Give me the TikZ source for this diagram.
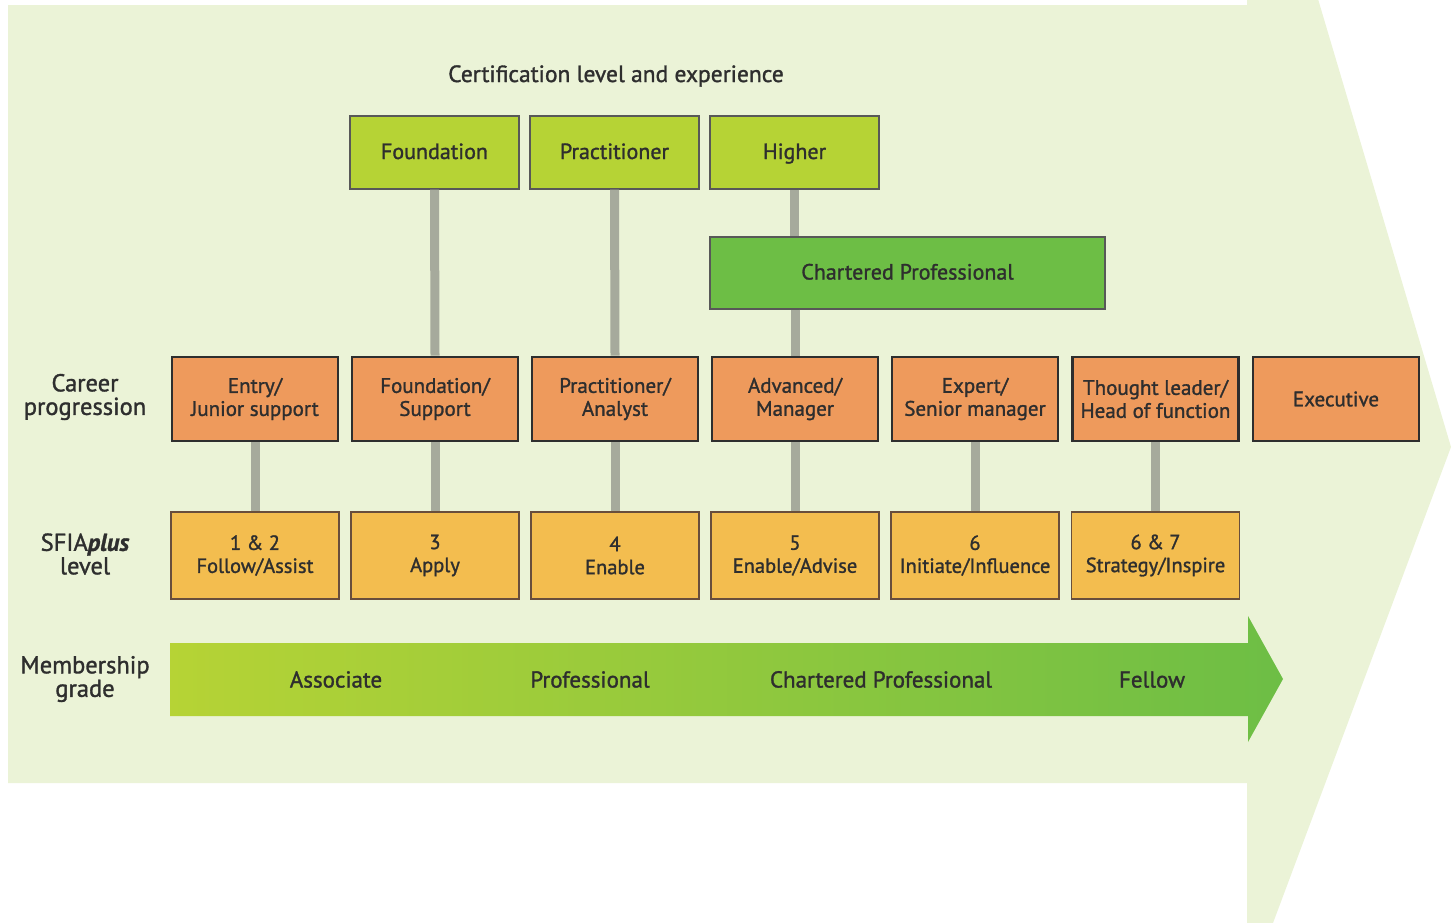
\documentclass[tikz,border=0pt]{standalone}
\usepackage{fontspec}
\setmainfont{PT Sans}[FakeBold=1.3]
\begin{document}
\definecolor{bgpale}{HTML}{EBF3D7}
\definecolor{limegr}{HTML}{B6D335}
\definecolor{midgr}{HTML}{6DBE45}
\definecolor{orangebox}{HTML}{EE9A5C}
\definecolor{yellowbox}{HTML}{F3BD4F}
\definecolor{linkgrey}{HTML}{A6AA9C}
\definecolor{ink}{HTML}{2E2E2E}
\tikzset{
  cert/.style={draw=ink!80, line width=1.2pt, fill=limegr, minimum width=169pt,
    minimum height=73pt, inner sep=0pt, text height=18pt, text depth=5pt,
    font=\fontsize{22}{24}\selectfont, text=ink},
  career/.style={draw=ink, line width=2.8pt, fill=orangebox, minimum width=166pt,
    minimum height=84pt, inner sep=0pt, align=center,
    font=\fontsize{21}{23}\selectfont, text=ink},
  sfia/.style={draw=ink!70!orangebox, line width=1.2pt, fill=yellowbox, minimum width=168pt,
    minimum height=87pt, inner sep=0pt, align=center,
    font=\fontsize{20.5}{23}\selectfont, text=ink},
  rowlabel/.style={align=center, font=\fontsize{24.5}{23.5}\selectfont, text=ink},
  grade/.style={font=\fontsize{23}{24}\selectfont, text=ink, text height=18pt, text depth=5pt},
  link/.style={draw=linkgrey, line width=9pt}
}
\begin{tikzpicture}[x=1pt,y=-1pt]
\useasboundingbox (0,0) rectangle (1456,922);
% pale background arrow
\fill[bgpale] (8,5) -- (1247,5) -- (1247,-1) -- (1318,-1) -- (1451,447)
  -- (1273,923) -- (1247,923) -- (1247,783) -- (8,783) -- cycle;

% title
\node[font=\fontsize{23.5}{24}\selectfont, text=ink] (title) at (616,76) {Certification level and experience};

% certification level
\node[cert] (fnd) at (434.5,152.5) {Foundation};
\node[cert] (prc) at (614.5,152.5) {Practitioner};
\node[cert] (hgh) at (794.5,152.5) {Higher};
\node[cert, fill=midgr, minimum width=395pt, minimum height=72pt] (chp) at (907.5,273) {Chartered Professional};

% career progression
\node[career] (c1) at (255,399) {Entry/\\Junior support};
\node[career] (c2) at (435,399) {Foundation/\\Support};
\node[career] (c3) at (615,399) {Practitioner/\\Analyst};
\node[career] (c4) at (795,399) {Advanced/\\Manager};
\node[career] (c5) at (975,399) {Expert/\\Senior manager};
\node[career] (c6) at (1155.5,399) {Thought leader/\\Head of function};
\node[career] (c7) at (1336,399) {Executive};

% SFIAplus levels
\node[sfia] (s1) at (255,555.5) {1 \& 2\\Follow/Assist};
\node[sfia] (s2) at (435,555.5) {3\\Apply};
\node[sfia] (s3) at (615,555.5) {4\\Enable};
\node[sfia] (s4) at (795,555.5) {5\\Enable/Advise};
\node[sfia] (s5) at (975,555.5) {6\\Initiate/Influence};
\node[sfia] (s6) at (1155.5,555.5) {6 \& 7\\Strategy/Inspire};

% links between rows
\draw[link] (fnd.south) -- (c2.north);
\draw[link] (prc.south) -- (c3.north);
\draw[link] (hgh.south) -- (hgh.south |- chp.north);
\draw[link] (c4.north |- chp.south) -- (c4.north);
\foreach \a/\b in {c1/s1,c2/s2,c3/s3,c4/s4,c5/s5,c6/s6}
  \draw[link] (\a.south) -- (\b.north);

% row labels
\node[rowlabel] (lcar) at (85,397) {Career\\progression};
\node[rowlabel] (lsfia) at (85,554) {SFIA\textbf{\textit{plus}}\\level};
\node[rowlabel] (lmem) at (85,679) {Membership\\grade};

% membership grade arrow
\shade[left color=limegr, right color=midgr] (170,643) -- (1248,643) -- (1248,616)
  -- (1283,679) -- (1248,742) -- (1248,716) -- (170,716) -- cycle;
\node[grade] (g1) at (336,681) {Associate};
\node[grade] (g2) at (590,681) {Professional};
\node[grade] (g3) at (881,681) {Chartered Professional};
\node[grade] (g4) at (1152,681) {Fellow};
\end{tikzpicture}
\end{document}
